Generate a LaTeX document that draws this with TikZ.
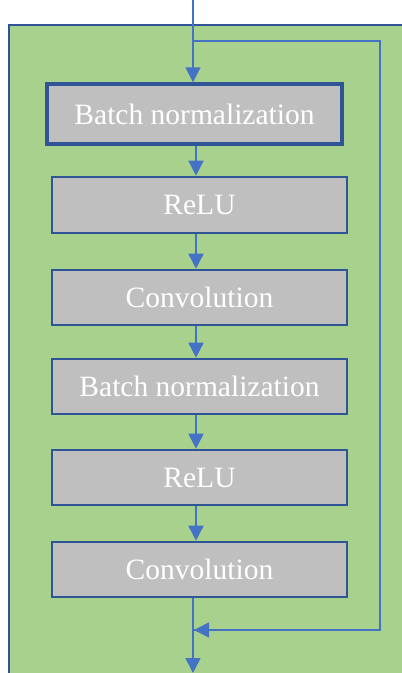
\documentclass[tikz,border=0pt]{standalone}
\usepackage{fontspec}
\setmainfont{Liberation Serif}
\usetikzlibrary{arrows.meta}
\definecolor{panelgreen}{HTML}{A9D18E}
\definecolor{frameblue}{HTML}{2F5597}
\definecolor{flowblue}{HTML}{4472C4}
\definecolor{boxgray}{HTML}{BFBFBF}
\tikzset{
  layerbox/.style={draw=frameblue, line width=2.6pt, fill=boxgray, text=white,
    minimum width=295pt, minimum height=55pt, inner sep=0pt,
    font=\fontsize{29.5}{32}\selectfont},
  flow/.style={draw=flowblue, line width=1.6pt,
    -{Triangle[width=15pt,length=15pt]}},
  skipline/.style={draw=flowblue, line width=1.2pt}
}
\begin{document}
\begin{tikzpicture}[x=1pt,y=-1pt]
  \useasboundingbox (0,0) rectangle (402,673);
  \clip (0,0) rectangle (402,673);
  % residual block panel, running off the right and bottom edges
  \draw[fill=panelgreen, draw=frameblue, line width=2.6pt] (9,25) rectangle (420,700);

  % layers
  \node[layerbox, line width=3.4pt, minimum height=60pt] (b1) at (194.5,114) {Batch normalization};
  \node[layerbox, minimum height=56pt] (b2) at (199.5,205) {ReLU};
  \node[layerbox] (b3) at (199.5,297.5) {Convolution};
  \node[layerbox] (b4) at (199.5,386.5) {Batch normalization};
  \node[layerbox] (b5) at (199.5,477.5) {ReLU};
  \node[layerbox] (b6) at (199.5,569.5) {Convolution};

  % in/out terminals and the skip path
  \coordinate (in) at (193,-2);
  \coordinate (split) at (193,41);
  \coordinate (skipTR) at (380,41);
  \coordinate (skipBR) at (380,630);
  \coordinate (merge) at (194,630);
  \coordinate (out) at (193,673);
  \coordinate (ax) at (196,0);

  % main path
  \draw[flow] (in) -- (in |- b1.north);
  \draw[flow] (b1.south -| ax) -- (b2.north -| ax);
  \draw[flow] (b2.south -| ax) -- (b3.north -| ax);
  \draw[flow] (b3.south -| ax) -- (b4.north -| ax);
  \draw[flow] (b4.south -| ax) -- (b5.north -| ax);
  \draw[flow] (b5.south -| ax) -- (b6.north -| ax);
  \draw[flow] (b6.south -| out) -- (out);

  % identity shortcut
  \draw[skipline] (split) -- (skipTR) -- (skipBR) -- (skipBR -| merge);
  \draw[flow] (skipBR) -- (merge);
\end{tikzpicture}
\end{document}
